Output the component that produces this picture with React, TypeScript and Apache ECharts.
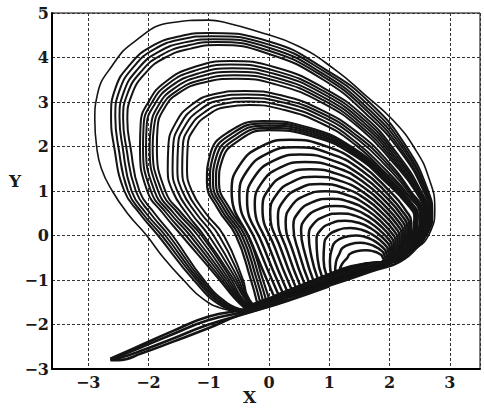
import React, { useEffect, useRef } from "react";
import * as echarts from "echarts";

type Pt = [number, number];

// Axis ranges and tick spacing
const X_RANGE: [number, number] = [-3.6, 3.5];
const Y_RANGE: [number, number] = [-3, 5];
const TICK_STEP = 1;

// Outermost single orbit
const outerOrbit: Pt[] = [
  [-0.45, -1.72], [-0.78, -1.64], [-1.1, -1.42], [-1.42, -1.0], [-1.75, -0.5], [-2.03, 0],
  [-2.35, 0.5], [-2.6, 1], [-2.78, 1.5], [-2.86, 2], [-2.89, 2.6], [-2.85, 3.15], [-2.6, 3.82],
  [-2.22, 4.37], [-1.63, 4.78], [-1.0, 4.84], [-0.68, 4.77], [-0.23, 4.6], [0.48, 4.26],
  [1.1, 3.72], [1.6, 3.15], [2.05, 2.6], [2.42, 1.95], [2.65, 1.3], [2.75, 0.6], [2.68, 0.1],
  [2.35, -0.37], [1.6, -0.85], [0.6, -1.28], [-0.45, -1.72],
];

// Band of orbits topping out near y = 4.3 .. 4.55
const highOrbits: Pt[][] = [
  [[-0.44, -1.71], [-0.78, -1.59], [-1.25, -1.0], [-1.84, 0], [-2.15, 0.5], [-2.4, 1], [-2.57, 2], [-2.62, 2.7], [-2.55, 3.3], [-2.3, 3.85], [-1.95, 4.25], [-1.5, 4.47], [-1.0, 4.55], [0, 4.36], [0.9, 3.76], [1.7, 2.95], [2.3, 1.95], [2.64, 1.0], [2.71, 0.5], [2.63, 0.05], [2.35, -0.36], [1.6, -0.84], [0.6, -1.27], [-0.44, -1.71]],
  [[-0.43, -1.7], [-0.76, -1.57], [-1.2, -1.0], [-1.78, 0], [-2.1, 0.5], [-2.34, 1], [-2.5, 2], [-2.55, 2.68], [-2.48, 3.26], [-2.24, 3.8], [-1.9, 4.19], [-1.45, 4.41], [-0.96, 4.48], [0, 4.29], [0.9, 3.7], [1.68, 2.89], [2.27, 1.93], [2.62, 0.99], [2.7, 0.5], [2.62, 0.05], [2.35, -0.355], [1.6, -0.835], [0.6, -1.265], [-0.43, -1.7]],
  [[-0.42, -1.69], [-0.74, -1.55], [-1.16, -1.0], [-1.72, 0], [-2.04, 0.5], [-2.28, 1], [-2.43, 2], [-2.48, 2.65], [-2.41, 3.22], [-2.17, 3.75], [-1.84, 4.12], [-1.4, 4.34], [-0.92, 4.41], [0, 4.22], [0.9, 3.63], [1.66, 2.83], [2.25, 1.9], [2.61, 0.98], [2.69, 0.49], [2.61, 0.05], [2.34, -0.35], [1.6, -0.83], [0.6, -1.26], [-0.42, -1.69]],
  [[-0.41, -1.68], [-0.72, -1.53], [-1.12, -1.0], [-1.66, 0], [-1.97, 0.5], [-2.21, 1], [-2.37, 2], [-2.42, 2.63], [-2.35, 3.18], [-2.11, 3.7], [-1.78, 4.06], [-1.35, 4.27], [-0.88, 4.35], [0, 4.15], [0.9, 3.57], [1.64, 2.78], [2.22, 1.88], [2.59, 0.97], [2.67, 0.49], [2.6, 0.04], [2.34, -0.34], [1.6, -0.82], [0.6, -1.25], [-0.41, -1.68]],
  [[-0.4, -1.67], [-0.7, -1.51], [-1.08, -1.0], [-1.6, 0], [-1.9, 0.5], [-2.15, 1], [-2.3, 2], [-2.35, 2.6], [-2.28, 3.15], [-2.05, 3.65], [-1.72, 4.0], [-1.3, 4.2], [-0.85, 4.28], [0, 4.08], [0.9, 3.5], [1.62, 2.72], [2.2, 1.85], [2.58, 0.95], [2.66, 0.48], [2.59, 0.04], [2.33, -0.33], [1.6, -0.81], [0.6, -1.24], [-0.4, -1.67]],
];

// Band of orbits topping out near y = 3.5 .. 3.9
const middleOrbits: Pt[][] = [
  [[-0.385, -1.655], [-0.58, -1.4], [-0.82, -1.0], [-1.45, 0], [-1.76, 0.5], [-2.02, 1], [-2.14, 2], [-2.13, 2.5], [-2.0, 3.0], [-1.72, 3.45], [-1.25, 3.78], [-0.65, 3.92], [0.1, 3.78], [0.9, 3.32], [1.6, 2.65], [2.12, 1.85], [2.52, 1.0], [2.64, 0.48], [2.58, 0.03], [2.33, -0.32], [1.6, -0.805], [0.6, -1.235], [-0.385, -1.655]],
  [[-0.372, -1.642], [-0.56, -1.39], [-0.78, -1.0], [-1.38, 0], [-1.7, 0.5], [-1.96, 1], [-2.09, 2], [-2.08, 2.48], [-1.95, 2.97], [-1.68, 3.4], [-1.22, 3.71], [-0.63, 3.84], [0.1, 3.7], [0.9, 3.25], [1.59, 2.59], [2.1, 1.82], [2.5, 0.99], [2.63, 0.48], [2.57, 0.03], [2.33, -0.32], [1.6, -0.8], [0.6, -1.23], [-0.372, -1.642]],
  [[-0.359, -1.629], [-0.54, -1.38], [-0.74, -1.0], [-1.31, 0], [-1.64, 0.5], [-1.9, 1], [-2.04, 2], [-2.03, 2.46], [-1.9, 2.94], [-1.63, 3.35], [-1.18, 3.64], [-0.61, 3.76], [0.1, 3.63], [0.9, 3.18], [1.58, 2.53], [2.08, 1.79], [2.49, 0.98], [2.61, 0.47], [2.55, 0.03], [2.32, -0.31], [1.6, -0.79], [0.6, -1.22], [-0.359, -1.629]],
  [[-0.346, -1.616], [-0.52, -1.37], [-0.7, -1.0], [-1.25, 0], [-1.58, 0.5], [-1.84, 1], [-1.98, 2], [-1.96, 2.44], [-1.84, 2.91], [-1.59, 3.29], [-1.15, 3.57], [-0.59, 3.68], [0.1, 3.55], [0.9, 3.11], [1.57, 2.47], [2.06, 1.76], [2.47, 0.97], [2.6, 0.47], [2.54, 0.03], [2.32, -0.31], [1.6, -0.785], [0.6, -1.215], [-0.346, -1.616]],
  [[-0.333, -1.603], [-0.5, -1.36], [-0.66, -1.0], [-1.18, 0], [-1.51, 0.5], [-1.78, 1], [-1.93, 2], [-1.91, 2.42], [-1.79, 2.88], [-1.54, 3.24], [-1.11, 3.5], [-0.57, 3.6], [0.1, 3.48], [0.9, 3.04], [1.56, 2.41], [2.04, 1.73], [2.46, 0.96], [2.58, 0.46], [2.52, 0.03], [2.31, -0.3], [1.6, -0.775], [0.6, -1.205], [-0.333, -1.603]],
  [[-0.32, -1.59], [-0.48, -1.35], [-0.62, -1.0], [-1.12, 0], [-1.45, 0.5], [-1.72, 1], [-1.86, 2], [-1.85, 2.4], [-1.74, 2.85], [-1.5, 3.2], [-1.08, 3.44], [-0.55, 3.52], [0.1, 3.4], [0.9, 2.97], [1.55, 2.36], [2.02, 1.7], [2.45, 0.95], [2.57, 0.46], [2.51, 0.03], [2.31, -0.3], [1.6, -0.765], [0.6, -1.195], [-0.32, -1.59]],
];

// Band of orbits topping out near y = 2.9 .. 3.25
const lowerOrbits: Pt[][] = [
  [[-0.31, -1.58], [-0.45, -1.32], [-0.58, -1.0], [-1.08, 0], [-1.37, 0.5], [-1.6, 1], [-1.68, 1.5], [-1.67, 2], [-1.56, 2.5], [-1.3, 2.92], [-0.9, 3.18], [-0.4, 3.25], [0.2, 3.15], [0.9, 2.8], [1.5, 2.28], [1.95, 1.7], [2.35, 1.0], [2.55, 0.5], [2.5, 0.02], [2.3, -0.29], [1.6, -0.76], [0.6, -1.19], [-0.31, -1.58]],
  [[-0.3, -1.57], [-0.43, -1.32], [-0.54, -1.0], [-1.0, 0], [-1.29, 0.5], [-1.52, 1], [-1.6, 1.5], [-1.59, 2], [-1.48, 2.47], [-1.23, 2.87], [-0.85, 3.11], [-0.38, 3.17], [0.2, 3.07], [0.9, 2.73], [1.49, 2.21], [1.94, 1.64], [2.34, 0.98], [2.54, 0.49], [2.49, 0.02], [2.3, -0.29], [1.6, -0.755], [0.6, -1.185], [-0.3, -1.57]],
  [[-0.29, -1.56], [-0.41, -1.32], [-0.5, -1.0], [-0.92, 0], [-1.21, 0.5], [-1.44, 1], [-1.52, 1.5], [-1.51, 2], [-1.4, 2.45], [-1.15, 2.82], [-0.8, 3.04], [-0.36, 3.09], [0.2, 3.0], [0.9, 2.66], [1.48, 2.15], [1.93, 1.58], [2.33, 0.95], [2.52, 0.48], [2.48, 0.02], [2.29, -0.29], [1.6, -0.745], [0.6, -1.175], [-0.29, -1.56]],
  [[-0.28, -1.55], [-0.39, -1.32], [-0.46, -1.0], [-0.83, 0], [-1.13, 0.5], [-1.36, 1], [-1.44, 1.5], [-1.43, 2], [-1.32, 2.42], [-1.07, 2.77], [-0.75, 2.96], [-0.35, 3.01], [0.2, 2.92], [0.9, 2.58], [1.46, 2.08], [1.91, 1.51], [2.31, 0.92], [2.51, 0.47], [2.47, 0.02], [2.29, -0.3], [1.6, -0.74], [0.6, -1.17], [-0.28, -1.55]],
  [[-0.27, -1.54], [-0.37, -1.32], [-0.43, -1.0], [-0.75, 0], [-1.05, 0.5], [-1.28, 1], [-1.36, 1.5], [-1.35, 2], [-1.24, 2.4], [-1.0, 2.72], [-0.7, 2.89], [-0.33, 2.93], [0.2, 2.84], [0.9, 2.5], [1.45, 2.02], [1.9, 1.45], [2.3, 0.9], [2.5, 0.46], [2.46, 0.02], [2.28, -0.3], [1.6, -0.73], [0.6, -1.16], [-0.27, -1.54]],
];

// Dense dome of orbits topping out near y = 2.35 .. 2.57
const domeOrbits: Pt[][] = [
  [[-0.2, -1.5], [-0.3, -1.0], [-0.55, 0], [-0.85, 0.6], [-1.03, 1.2], [-0.98, 1.8], [-0.7, 2.3], [-0.1, 2.57], [0.671, 2.42], [1.391, 1.976], [2.007, 1.256], [2.367, 0.726], [2.47, 0.45], [2.44, 0.0], [2.32, -0.3], [1.6, -0.725], [0.6, -1.155], [-0.2, -1.5]],
  [[-0.15, -1.48], [-0.25, -1.0], [-0.5, 0], [-0.8, 0.6], [-0.98, 1.2], [-0.93, 1.77], [-0.66, 2.25], [-0.08, 2.52], [0.681, 2.374], [1.39, 1.938], [2.0, 1.23], [2.354, 0.71], [2.455, 0.44], [2.425, 0.0], [2.31, -0.31], [1.6, -0.72], [0.6, -1.15], [-0.15, -1.48]],
  [[-0.1, -1.46], [-0.2, -1.0], [-0.45, 0], [-0.75, 0.6], [-0.93, 1.2], [-0.88, 1.74], [-0.62, 2.2], [-0.06, 2.47], [0.69, 2.327], [1.39, 1.899], [1.99, 1.205], [2.34, 0.695], [2.44, 0.43], [2.41, 0.0], [2.3, -0.32], [1.6, -0.715], [0.6, -1.145], [-0.1, -1.46]],
  [[-0.05, -1.44], [-0.15, -1.0], [-0.4, 0], [-0.7, 0.6], [-0.88, 1.2], [-0.83, 1.71], [-0.58, 2.15], [-0.04, 2.42], [0.7, 2.28], [1.39, 1.86], [1.981, 1.18], [2.326, 0.68], [2.425, 0.42], [2.395, 0.0], [2.29, -0.33], [1.6, -0.71], [0.6, -1.14], [-0.05, -1.44]],
  [[0, -1.42], [-0.1, -1.0], [-0.35, 0], [-0.65, 0.6], [-0.83, 1.2], [-0.78, 1.68], [-0.54, 2.1], [-0.02, 2.37], [0.709, 2.233], [1.389, 1.821], [1.973, 1.155], [2.313, 0.665], [2.41, 0.41], [2.38, 0.0], [2.28, -0.34], [1.6, -0.7], [0.6, -1.13], [0, -1.42]],
];

// Nested orbits shrinking onto the focus near (1.6, -0.5)
const coreOrbits: Pt[][] = [
  [[1.17, -0.77], [1.215, -0.635], [1.3, -0.5], [1.34, -0.415], [1.45, -0.353], [1.6, -0.33], [1.681, -0.34], [1.757, -0.366], [1.821, -0.404], [1.859, -0.434], [1.87, -0.45], [1.92, -0.6], [1.6, -0.63], [1.17, -0.77]],
  [[1.097, -0.809], [1.11, -0.605], [1.172, -0.4], [1.218, -0.282], [1.345, -0.196], [1.517, -0.165], [1.633, -0.184], [1.741, -0.236], [1.834, -0.311], [1.888, -0.369], [1.903, -0.4], [1.945, -0.585], [1.6, -0.634], [1.097, -0.809]],
  [[1.025, -0.849], [1.01, -0.575], [1.044, -0.3], [1.096, -0.15], [1.239, -0.04], [1.433, 0.0], [1.584, -0.028], [1.724, -0.105], [1.845, -0.217], [1.915, -0.305], [1.935, -0.35], [1.971, -0.571], [1.6, -0.639], [1.025, -0.849]],
  [[0.952, -0.888], [0.905, -0.544], [0.916, -0.2], [0.974, -0.017], [1.133, 0.117], [1.35, 0.166], [1.535, 0.129], [1.708, 0.026], [1.857, -0.123], [1.943, -0.239], [1.968, -0.3], [1.996, -0.556], [1.6, -0.643], [0.952, -0.888]],
  [[0.879, -0.927], [0.805, -0.514], [0.788, -0.1], [0.852, 0.116], [1.028, 0.273], [1.267, 0.331], [1.487, 0.285], [1.693, 0.157], [1.869, -0.029], [1.972, -0.174], [2.001, -0.25], [2.021, -0.541], [1.6, -0.647], [0.879, -0.927]],
  [[0.807, -0.967], [0.705, -0.484], [0.66, 0.0], [0.73, 0.249], [0.922, 0.43], [1.183, 0.497], [1.438, 0.441], [1.676, 0.288], [1.88, 0.065], [1.999, -0.109], [2.033, -0.2], [2.047, -0.527], [1.6, -0.652], [0.807, -0.967]],
  [[0.734, -1.006], [0.605, -0.453], [0.532, 0.1], [0.608, 0.381], [0.816, 0.587], [1.1, 0.662], [1.39, 0.597], [1.66, 0.418], [1.892, 0.159], [2.027, -0.044], [2.066, -0.15], [2.072, -0.512], [1.6, -0.656], [0.734, -1.006]],
  [[0.661, -1.045], [0.505, -0.423], [0.404, 0.2], [0.486, 0.514], [0.711, 0.743], [1.017, 0.827], [1.342, 0.753], [1.645, 0.549], [1.904, 0.252], [2.056, 0.02], [2.099, -0.1], [2.097, -0.497], [1.6, -0.66], [0.661, -1.045]],
  [[0.589, -1.085], [0.405, -0.393], [0.276, 0.3], [0.364, 0.647], [0.605, 0.9], [0.933, 0.993], [1.292, 0.91], [1.628, 0.68], [1.915, 0.346], [2.083, 0.086], [2.131, -0.05], [2.123, -0.483], [1.6, -0.665], [0.589, -1.085]],
  [[0.516, -1.124], [0.305, -0.362], [0.148, 0.4], [0.242, 0.779], [0.499, 1.056], [0.85, 1.158], [1.244, 1.065], [1.612, 0.811], [1.927, 0.44], [2.111, 0.151], [2.164, 0.0], [2.148, -0.468], [1.6, -0.669], [0.516, -1.124]],
  [[0.443, -1.163], [0.205, -0.332], [0.02, 0.5], [0.12, 0.912], [0.394, 1.213], [0.767, 1.323], [1.196, 1.221], [1.596, 0.941], [1.94, 0.534], [2.14, 0.215], [2.197, 0.05], [2.173, -0.453], [1.6, -0.673], [0.443, -1.163]],
  [[0.371, -1.203], [0.105, -0.302], [-0.108, 0.6], [-0.002, 1.045], [0.288, 1.37], [0.683, 1.489], [1.147, 1.378], [1.58, 1.072], [1.951, 0.628], [2.167, 0.281], [2.229, 0.1], [2.199, -0.439], [1.6, -0.678], [0.371, -1.203]],
  [[0.298, -1.242], [0.005, -0.271], [-0.236, 0.7], [-0.124, 1.177], [0.182, 1.526], [0.6, 1.654], [1.099, 1.534], [1.564, 1.203], [1.963, 0.722], [2.196, 0.346], [2.262, 0.15], [2.224, -0.424], [1.6, -0.682], [0.298, -1.242]],
  [[0.225, -1.281], [-0.095, -0.241], [-0.364, 0.8], [-0.246, 1.31], [0.077, 1.682], [0.517, 1.819], [1.05, 1.689], [1.548, 1.333], [1.975, 0.815], [2.224, 0.41], [2.295, 0.2], [2.249, -0.409], [1.6, -0.686], [0.225, -1.281]],
  [[0.153, -1.321], [-0.19, -0.211], [-0.492, 0.9], [-0.368, 1.443], [-0.03, 1.84], [0.433, 1.985], [1.001, 1.846], [1.532, 1.465], [1.986, 0.909], [2.251, 0.476], [2.327, 0.25], [2.275, -0.395], [1.6, -0.691], [0.153, -1.321]],
  [[0.08, -1.36], [-0.285, -0.18], [-0.62, 1.0], [-0.49, 1.575], [-0.135, 1.996], [0.35, 2.15], [0.953, 2.002], [1.516, 1.595], [1.998, 1.003], [2.28, 0.541], [2.36, 0.3], [2.3, -0.38], [1.6, -0.695], [0.08, -1.36]],
];

// Thin reinjection tongue running down to the lower-left tip
const tongueStrands: Pt[][] = [
  [[0.3, -1.36], [-0.3, -1.63], [-1.0, -1.82], [-1.6, -2.15], [-2.1, -2.45], [-2.5, -2.69], [-2.63, -2.77]],
  [[0.3, -1.41], [-0.3, -1.68], [-1.0, -1.9], [-1.6, -2.22], [-2.1, -2.5], [-2.5, -2.72], [-2.63, -2.78]],
  [[-2.63, -2.79], [-2.5, -2.76], [-2.1, -2.58], [-1.6, -2.32], [-1.0, -2.0], [-0.3, -1.72], [0.3, -1.47], [1.0, -1.14]],
  [[-2.63, -2.8], [-2.5, -2.8], [-2.1, -2.64], [-1.6, -2.39], [-1.0, -2.08], [-0.51, -1.8], [0.03, -1.58], [0.86, -1.19], [1.69, -0.81], [2.25, -0.52], [2.59, 0.0]],
];

const INK = "#141414";
const LABEL_FONT = "'DejaVu Serif', serif";

function minusSign(v: number): string {
  return v < 0 ? "\u2212" + Math.abs(v) : String(v);
}

function orbitSeries(list: Pt[][], width: number) {
  return list.map((pts) => ({
    type: "line" as const,
    data: pts,
    smooth: 0.5,
    showSymbol: false,
    silent: true,
    lineStyle: { color: INK, width },
  }));
}

export default function App() {
  const ref = useRef<HTMLDivElement>(null);

  useEffect(() => {
    if (!ref.current) return;
    const chart = echarts.init(ref.current, undefined, { renderer: "svg" });

    const gridLine = { show: true, lineStyle: { color: "#333333", width: 1, type: [3, 2] as number[] } };
    const labelStyle = {
      fontFamily: LABEL_FONT,
      fontWeight: "bold" as const,
      fontSize: 16,
      color: "#1a1a1a",
      formatter: minusSign,
    };

    chart.setOption({
      animation: false,
      backgroundColor: "#ffffff",
      grid: { left: 52, right: 4, top: 13, bottom: 42, show: true, borderColor: "#000", borderWidth: 1 },
      xAxis: {
        type: "value",
        min: X_RANGE[0],
        max: X_RANGE[1],
        splitNumber: 7,
        minInterval: TICK_STEP,
        maxInterval: TICK_STEP,
        axisLine: { show: true, onZero: false, lineStyle: { color: "#000", width: 2 } },
        axisTick: { show: false },
        axisLabel: { ...labelStyle, margin: 5, showMinLabel: false, showMaxLabel: false },
        splitLine: gridLine,
      },
      yAxis: {
        type: "value",
        min: Y_RANGE[0],
        max: Y_RANGE[1],
        interval: TICK_STEP,
        axisLine: { show: true, onZero: false, lineStyle: { color: "#000", width: 2 } },
        axisTick: { show: false },
        axisLabel: { ...labelStyle, margin: 3 },
        splitLine: gridLine,
      },
      graphic: [
        { type: "text", left: 9, top: 172, style: { text: "Y", font: `bold 17px ${LABEL_FONT}`, fill: "#1a1a1a" } },
        { type: "text", left: 243, top: 388, style: { text: "X", font: `bold 17px ${LABEL_FONT}`, fill: "#1a1a1a" } },
      ],
      series: [
        ...orbitSeries([outerOrbit], 1.6),
        ...orbitSeries(highOrbits, 2.0),
        ...orbitSeries(middleOrbits, 2.0),
        ...orbitSeries(lowerOrbits, 2.0),
        ...orbitSeries(domeOrbits, 2.2),
        ...orbitSeries(coreOrbits, 2.5),
        ...orbitSeries(tongueStrands, 2.6),
      ],
    });

    return () => chart.dispose();
  }, []);

  return (
    <div
      ref={ref}
      style={{ position: "fixed", left: 0, top: 0, width: 484, height: 411, background: "#fff" }}
    />
  );
}
